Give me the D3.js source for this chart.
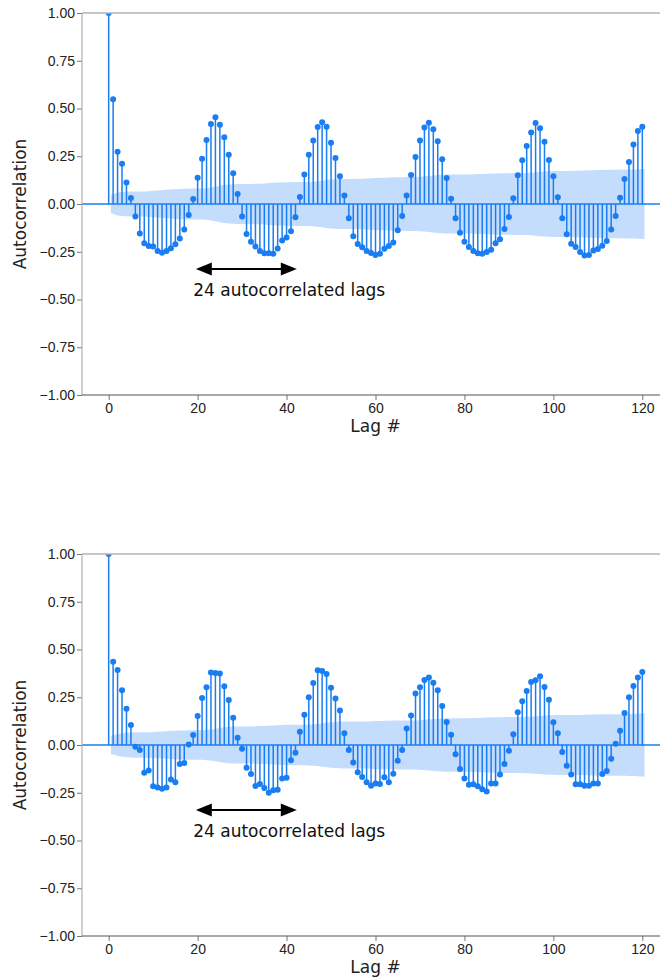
<!DOCTYPE html>
<html>
<head>
<meta charset="utf-8">
<script src="https://cdn.jsdelivr.net/npm/d3@7"></script>
<style>
  html, body { margin: 0; padding: 0; background: #fff; }
  svg { display: block; font-family: "DejaVu Sans", sans-serif; }
</style>
</head>
<body>
<svg id="chart" width="660" height="979"></svg>
<script>
// Autocorrelation at lags 0..120, first series
const acfTop = [
  1.000, 0.548, 0.274, 0.211, 0.113, 0.031, -0.065, -0.154, -0.206, -0.220,
  -0.223, -0.246, -0.255, -0.246, -0.232, -0.211, -0.181, -0.134, -0.058, 0.026,
  0.138, 0.237, 0.335, 0.419, 0.454, 0.415, 0.349, 0.258, 0.161, 0.052,
  -0.066, -0.157, -0.197, -0.222, -0.246, -0.258, -0.258, -0.260, -0.233, -0.191,
  -0.175, -0.143, -0.070, 0.037, 0.155, 0.258, 0.332, 0.403, 0.428, 0.405,
  0.321, 0.241, 0.145, 0.044, -0.075, -0.169, -0.209, -0.227, -0.246, -0.257,
  -0.267, -0.260, -0.234, -0.220, -0.202, -0.138, -0.063, 0.044, 0.152, 0.246,
  0.333, 0.400, 0.426, 0.391, 0.328, 0.234, 0.136, 0.028, -0.075, -0.150,
  -0.197, -0.225, -0.246, -0.258, -0.260, -0.251, -0.239, -0.206, -0.185, -0.131,
  -0.068, 0.030, 0.150, 0.229, 0.304, 0.375, 0.424, 0.396, 0.326, 0.230,
  0.145, 0.035, -0.075, -0.159, -0.208, -0.225, -0.251, -0.269, -0.267, -0.244,
  -0.236, -0.218, -0.194, -0.133, -0.063, 0.033, 0.131, 0.220, 0.312, 0.382,
  0.405
];

// Autocorrelation at lags 0..120, second series
const acfBottom = [
  1.000, 0.436, 0.393, 0.286, 0.190, 0.105, -0.009, -0.026, -0.145, -0.134,
  -0.216, -0.223, -0.229, -0.223, -0.181, -0.195, -0.099, -0.094, 0.003, 0.052,
  0.152, 0.246, 0.302, 0.380, 0.377, 0.375, 0.307, 0.236, 0.143, 0.038,
  -0.019, -0.119, -0.152, -0.215, -0.204, -0.225, -0.250, -0.237, -0.234, -0.176,
  -0.171, -0.080, -0.040, 0.070, 0.159, 0.250, 0.325, 0.391, 0.387, 0.372,
  0.300, 0.243, 0.181, 0.061, -0.026, -0.092, -0.143, -0.168, -0.195, -0.213,
  -0.201, -0.204, -0.169, -0.195, -0.150, -0.082, -0.026, 0.087, 0.154, 0.269,
  0.302, 0.340, 0.354, 0.326, 0.286, 0.204, 0.120, 0.054, -0.049, -0.126,
  -0.176, -0.208, -0.206, -0.216, -0.232, -0.243, -0.202, -0.202, -0.154, -0.099,
  -0.030, 0.056, 0.171, 0.229, 0.283, 0.330, 0.339, 0.360, 0.304, 0.237,
  0.119, 0.061, -0.037, -0.108, -0.155, -0.206, -0.206, -0.213, -0.213, -0.202,
  -0.201, -0.152, -0.136, -0.072, 0.007, 0.075, 0.168, 0.250, 0.309, 0.354,
  0.382
];

const xTicks = [0, 20, 40, 60, 80, 100, 120];
const yTicks = [-1.00, -0.75, -0.50, -0.25, 0.00, 0.25, 0.50, 0.75, 1.00];
const nObs = 1700;               // sample size behind the confidence band
const annotationText = "24 autocorrelated lags";
const arrowLags = [19.6, 42.3];  // span of the double arrow, in lags
const arrowLevel = -0.34;
const textAnchor = [19.0, -0.482];

const blue = "#1a7df2";
const svg = d3.select("#chart");

const margin = { left: 82, right: 669 };
const panels = [
  { acf: acfTop, top: 13, bottom: 395, id: "a" },
  { acf: acfBottom, top: 554, bottom: 936, id: "b" }
];

// Bartlett standard errors for the 95% band
function bartlettBand(acf) {
  const out = [];
  let s = 0;
  for (let k = 1; k < acf.length; k++) {
    const v = (1 + 2 * s) / nObs;
    out.push({ lag: k, half: 1.96 * Math.sqrt(v) });
    s += acf[k] * acf[k];
  }
  out[0].lag -= 0.5;
  out[out.length - 1].lag += 0.5;
  return out;
}

const defs = svg.append("defs");

panels.forEach(p => {
  const x = d3.scaleLinear().domain([-6, 126]).range([margin.left, margin.right]);
  const y = d3.scaleLinear().domain([-1, 1]).range([p.bottom, p.top]);
  const g = svg.append("g");

  defs.append("clipPath").attr("id", "clip-" + p.id)
    .append("rect")
    .attr("x", margin.left).attr("y", p.top)
    .attr("width", margin.right - margin.left).attr("height", p.bottom - p.top);

  const plot = g.append("g").attr("clip-path", "url(#clip-" + p.id + ")");
  const lags = p.acf.map((v, i) => ({ lag: i, v }));

  // stems
  plot.selectAll("line.stem").data(lags).join("line")
    .attr("class", "stem")
    .attr("x1", d => x(d.lag)).attr("x2", d => x(d.lag))
    .attr("y1", y(0)).attr("y2", d => y(d.v))
    .attr("stroke", blue).attr("stroke-width", 1.5);

  // zero line
  plot.append("line")
    .attr("x1", margin.left).attr("x2", margin.right)
    .attr("y1", y(0)).attr("y2", y(0))
    .attr("stroke", blue).attr("stroke-width", 1.5);

  // markers
  plot.selectAll("circle.pt").data(lags).join("circle")
    .attr("class", "pt")
    .attr("cx", d => x(d.lag)).attr("cy", d => y(d.v))
    .attr("r", 3).attr("fill", blue);

  // confidence band
  const band = bartlettBand(p.acf);
  const area = d3.area()
    .x(d => x(d.lag))
    .y0(d => y(-d.half))
    .y1(d => y(d.half));
  plot.append("path").datum(band)
    .attr("d", area)
    .attr("fill", blue).attr("fill-opacity", 0.26);

  // axes
  const yAxis = d3.axisLeft(y).tickValues(yTicks).tickFormat(d3.format(".2f"))
    .tickSize(5).tickPadding(2);
  const ya = g.append("g").attr("transform", `translate(${margin.left},0)`).call(yAxis);
  ya.select(".domain").remove();
  ya.selectAll(".tick line").attr("stroke", "#777");
  ya.selectAll(".tick text").attr("font-size", 14).attr("fill", "#222")
    .text(d => d3.format(".2f")(d).replace("-", "\u2212"));

  const xAxis = d3.axisBottom(x).tickValues(xTicks).tickSize(5).tickPadding(3);
  const xa = g.append("g").attr("transform", `translate(0,${p.bottom})`).call(xAxis);
  xa.select(".domain").remove();
  xa.selectAll(".tick line").attr("stroke", "#777");
  xa.selectAll(".tick text").attr("font-size", 14).attr("fill", "#222");

  // spines
  g.append("line").attr("x1", margin.left).attr("x2", margin.left)
    .attr("y1", p.top).attr("y2", p.bottom).attr("stroke", "#aaa").attr("stroke-width", 1.1);
  g.append("line").attr("x1", margin.left).attr("x2", margin.right)
    .attr("y1", p.top).attr("y2", p.top).attr("stroke", "#b3b3b3").attr("stroke-width", 1.6);
  g.append("line").attr("x1", margin.left).attr("x2", margin.right)
    .attr("y1", p.bottom).attr("y2", p.bottom).attr("stroke", "#555").attr("stroke-width", 1.1);

  // axis titles
  g.append("text")
    .attr("transform", `translate(26,${(p.top + p.bottom) / 2}) rotate(-90)`)
    .attr("text-anchor", "middle").attr("font-size", 17).attr("fill", "#222")
    .text("Autocorrelation");
  g.append("text")
    .attr("x", (margin.left + margin.right) / 2).attr("y", p.bottom + 37)
    .attr("text-anchor", "middle").attr("font-size", 17).attr("fill", "#222")
    .text("Lag #");

  // annotation: double-headed arrow and label
  const ay = y(arrowLevel);
  const ax0 = x(arrowLags[0]), ax1 = x(arrowLags[1]);
  const headL = 16, headW = 6.5;
  g.append("line")
    .attr("x1", ax0 + headL - 1).attr("x2", ax1 - headL + 1)
    .attr("y1", ay).attr("y2", ay)
    .attr("stroke", "#000").attr("stroke-width", 2);
  g.append("path")
    .attr("d", `M${ax0},${ay} L${ax0 + headL},${ay - headW} L${ax0 + headL},${ay + headW} Z`)
    .attr("fill", "#000");
  g.append("path")
    .attr("d", `M${ax1},${ay} L${ax1 - headL},${ay - headW} L${ax1 - headL},${ay + headW} Z`)
    .attr("fill", "#000");
  g.append("text")
    .attr("x", x(textAnchor[0])).attr("y", y(textAnchor[1]))
    .attr("font-size", 17).attr("fill", "#111")
    .text(annotationText);
});
</script>
</body>
</html>
